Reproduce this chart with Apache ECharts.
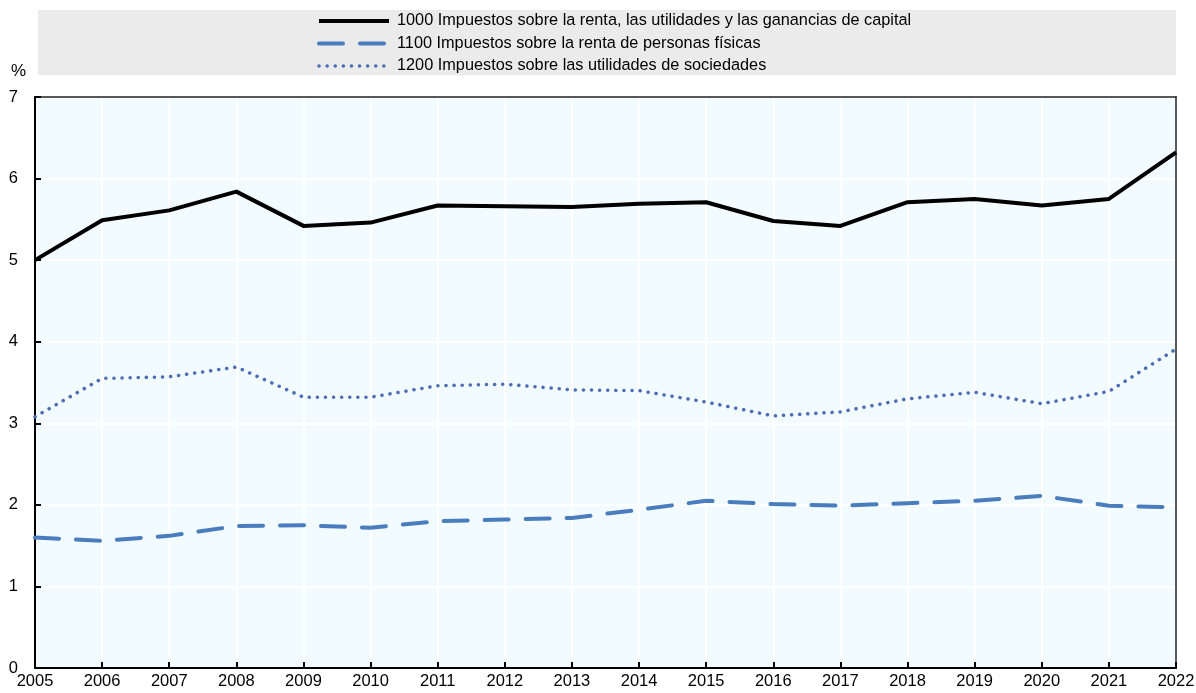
<!DOCTYPE html>
<html>
<head>
<meta charset="utf-8">
<script src="https://cdn.jsdelivr.net/npm/echarts@6/dist/echarts.min.js"></script>
<style>
html,body{margin:0;padding:0;background:#fff;}
#c{width:1196px;height:693px;}
</style>
</head>
<body>
<div id="c"></div>
<script>
const years = ['2005','2006','2007','2008','2009','2010','2011','2012','2013','2014','2015','2016','2017','2018','2019','2020','2021','2022'];
const name1000 = '1000 Impuestos sobre la renta, las utilidades y las ganancias de capital';
const name1100 = '1100 Impuestos sobre la renta de personas físicas';
const name1200 = '1200 Impuestos sobre las utilidades de sociedades';
const total1000 = [5.00,5.49,5.61,5.84,5.42,5.46,5.67,5.66,5.65,5.69,5.71,5.48,5.42,5.71,5.75,5.67,5.75,6.32];
const personal1100 = [1.60,1.56,1.62,1.74,1.75,1.72,1.80,1.82,1.84,1.94,2.05,2.01,1.99,2.02,2.05,2.11,1.99,1.97];
const corporate1200 = [3.08,3.55,3.57,3.69,3.32,3.32,3.46,3.48,3.41,3.40,3.26,3.09,3.14,3.30,3.38,3.24,3.39,3.91];
const yTicks = [0,1,2,3,4,5,6,7];

const FONT = 'Arial, "Liberation Sans", sans-serif';
const C1 = '#000000', C2 = '#4A7DBD', C3 = '#4C6DB5';
const chart = echarts.init(document.getElementById('c'), null, {renderer:'canvas'});
chart.setOption({
  animation:false,
  backgroundColor:'#ffffff',
  graphic:[
    {type:'rect', left:38, top:10, shape:{width:1138, height:65}, style:{fill:'#EBEBEB'}, z:-10},
    {type:'text', left:11, top:63, style:{text:'%', font:'17px ' + FONT, fill:'#000'}}
  ],
  legend:{
    orient:'vertical',
    left:317,
    top:13,
    itemWidth:70,
    itemHeight:14,
    itemGap:6.5,
    padding:0,
    textStyle:{fontFamily:FONT, fontSize:16.3, color:'#000', padding:[0,0,0,3]},
    data:[
      {name:name1000, itemStyle:{opacity:0}, lineStyle:{width:4, color:C1, type:'solid'}},
      {name:name1100, itemStyle:{opacity:0}, lineStyle:{width:4, color:C2, type:[24,17], cap:'round'}},
      {name:name1200, itemStyle:{opacity:0}, lineStyle:{width:3.5, color:C3, type:[0.1,8], cap:'round'}}
    ]
  },
  grid:{
    left:35, right:20, top:97, bottom:25,
    outerBoundsMode:'none',
    show:true, backgroundColor:'#F2FBFF', borderColor:'#333', borderWidth:1.5
  },
  xAxis:[{
    type:'category',
    data:years,
    boundaryGap:false,
    axisLine:{onZero:false, lineStyle:{color:'#000', width:2}},
    axisTick:{inside:true, length:6, lineStyle:{color:'#000', width:2}},
    axisLabel:{fontFamily:FONT, fontSize:16.5, color:'#000', margin:5},
    splitLine:{show:true, lineStyle:{color:'#ffffff', width:2}}
  },{
    type:'category',
    data:years,
    boundaryGap:false,
    position:'top',
    axisLine:{show:true, onZero:false, lineStyle:{color:'#222', width:1.5}},
    axisTick:{show:false},
    axisLabel:{show:false},
    splitLine:{show:false}
  }],
  yAxis:[{
    type:'value',
    min:0, max:7, interval:1,
    axisLine:{show:true, onZero:false, lineStyle:{color:'#000', width:2}},
    axisTick:{show:true, inside:true, length:6, lineStyle:{color:'#000', width:2}},
    axisLabel:{fontFamily:FONT, fontSize:16.5, color:'#000', margin:17,
      formatter:function(v){return yTicks.indexOf(v)>=0 ? String(v) : '';}},
    splitLine:{show:true, lineStyle:{color:'#ffffff', width:2}}
  },{
    type:'value',
    min:0, max:7, interval:1,
    position:'right',
    axisLine:{show:true, onZero:false, lineStyle:{color:'#222', width:1.5}},
    axisTick:{show:false},
    axisLabel:{show:false},
    splitLine:{show:false}
  }],
  series:[
    {name:name1000, type:'line', data:total1000, symbol:'none', z:5,
      lineStyle:{color:C1, width:4, join:'round'}, itemStyle:{color:C1}},
    {name:name1100, type:'line', data:personal1100, symbol:'none', z:4,
      lineStyle:{color:C2, width:4, type:[24,17], cap:'round', join:'round'}, itemStyle:{color:C2}},
    {name:name1200, type:'line', data:corporate1200, symbol:'none', z:3,
      lineStyle:{color:C3, width:3.5, type:[0.1,8], cap:'round', join:'round'}, itemStyle:{color:C3}}
  ]
});
</script>
</body>
</html>
